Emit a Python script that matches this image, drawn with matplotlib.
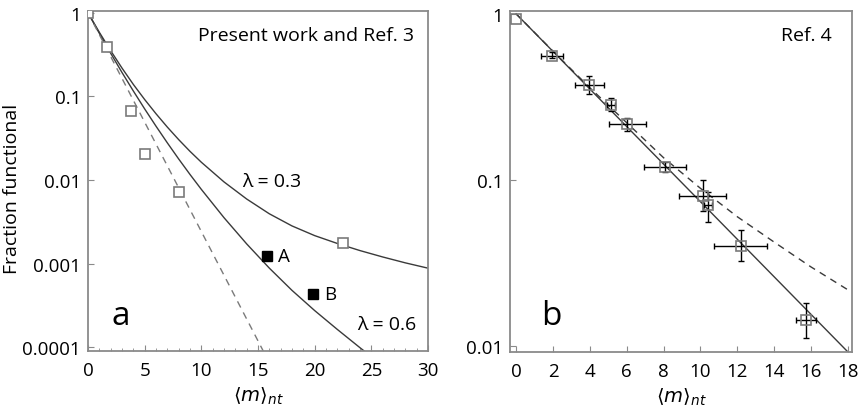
import matplotlib

matplotlib.use("Agg")
import matplotlib.pyplot as plt
from matplotlib.ticker import FixedLocator, NullLocator

plt.rcParams["font.family"] = ["Open Sans", "DejaVu Sans"]
plt.rcParams["mathtext.fontset"] = "dejavusans"

# ---- panel a: present work and Ref. 3 ----
a_open_m = [0.0, 1.7, 3.8, 5.0, 8.06, 22.5]
a_open_f = [1.0, 0.387, 0.066, 0.0202, 0.00714, 0.00174]
a_filled_m = [15.8, 19.85]
a_filled_f = [0.00122, 0.00043]
a_filled_names = ["A", "B"]

# curves
lam03_m = [0, 1, 2, 3, 4, 5, 6, 7, 8, 9, 10, 12, 14, 16, 18, 20, 22, 24, 26, 28, 30]
lam03_f = [1.0, 0.584, 0.352, 0.218, 0.139, 0.0917, 0.0620, 0.0429, 0.0304,
           0.0220, 0.0163, 0.00948, 0.00592, 0.00394, 0.00282, 0.00216,
           0.00174, 0.00143, 0.00120, 0.00102, 0.000881]
lam06_m = [0, 1, 2, 3, 4, 5, 6, 7, 8, 9, 10, 12, 14, 16, 18, 20, 22, 24, 25]
lam06_f = [1.0, 0.568, 0.328, 0.193, 0.116, 0.0708, 0.0440, 0.0278, 0.01784,
           0.01164, 0.00772, 0.00354, 0.00172, 0.000882, 0.000478, 0.000274,
           0.000163, 9.85e-5, 7.72e-5]
a_dash_m = [0.0, 15.5]
a_dash_f = [1.0, 8.8e-5]

a_yticks = [1, 0.1, 0.01, 0.001, 0.0001]
a_yticklabels = ["1", "0.1", "0.01", "0.001", "0.0001"]

# ---- panel b: Ref. 4 ----
b_m = [0.0, 1.94, 3.98, 5.13, 6.02, 8.08, 10.12, 10.41, 12.18, 15.71]
b_f = [0.93, 0.561, 0.373, 0.284, 0.217, 0.119, 0.0798, 0.0707, 0.0402, 0.01435]
b_f_lo = [0.93, 0.54, 0.330, 0.260, 0.197, 0.111, 0.0653, 0.0556, 0.0324, 0.0112]
b_f_hi = [0.93, 0.585, 0.421, 0.312, 0.237, 0.128, 0.0995, 0.0843, 0.0502, 0.0182]
b_m_err = [0.0, 0.58, 0.81, 0.22, 1.0, 1.15, 1.29, 0.22, 1.42, 0.54]

b_line_m = [0.0, 18.0]
b_line_f = [1.0, 0.0092]
b_dash_m = [0.0, 2, 4, 6, 8, 10, 12, 14, 16, 18.2]
b_dash_f = [1.0, 0.596, 0.359, 0.221, 0.136, 0.089, 0.060, 0.0422, 0.0299, 0.0211]

b_yticks = [1, 0.1, 0.01]
b_yticklabels = ["1", "0.1", "0.01"]

LINE = "#3a3a3a"
GRAY = "#7a7a7a"
SPINE = "#8a8a8a"
TICK_FS = 13.5

fig = plt.figure(figsize=(8.58, 4.14), dpi=100)
ax_a = fig.add_axes([88 / 858, 62 / 414, 340 / 858, 340 / 414])
ax_b = fig.add_axes([510 / 858, 61 / 414, 342 / 858, 341 / 414])

for ax in (ax_a, ax_b):
    ax.set_yscale("log")
    for s in ax.spines.values():
        s.set_color(SPINE)
        s.set_linewidth(1.3)
    ax.tick_params(which="both", direction="in", labelsize=TICK_FS, colors="black",
                   top=False, right=False)
    ax.tick_params(axis="x", pad=7)
    ax.tick_params(axis="y", pad=5)
    ax.tick_params(which="major", length=4, color=SPINE)
    ax.tick_params(which="minor", length=2.5, color=SPINE)
    ax.yaxis.set_minor_locator(NullLocator())

# panel a
ax_a.plot(lam03_m, lam03_f, color=LINE, lw=1.0)
ax_a.plot(lam06_m, lam06_f, color=LINE, lw=1.0)
ax_a.plot(a_dash_m, a_dash_f, color=GRAY, lw=1.0, dashes=(5, 4))
ax_a.plot(a_open_m, a_open_f, ls="none", marker="s", ms=7, mfc="white",
          mec=GRAY, mew=1.2, zorder=3)
ax_a.plot(a_filled_m, a_filled_f, ls="none", marker="s", ms=7, mfc="black",
          mec="black", zorder=3)
for m, f, name in zip(a_filled_m, a_filled_f, a_filled_names):
    ax_a.annotate(name, (m, f), xytext=(8, 0), textcoords="offset points",
                  ha="left", va="center", fontsize=13.5)
ax_a.text(16.2, 0.0096, "λ = 0.3", ha="center", va="center", fontsize=14)
ax_a.text(26.4, 0.000187, "λ = 0.6", ha="center", va="center", fontsize=14)
ax_a.text(0.96, 0.955, "Present work and Ref. 3", transform=ax_a.transAxes,
          ha="right", va="top", fontsize=14)
ax_a.text(0.07, 0.079, "a", transform=ax_a.transAxes, ha="left", va="baseline",
          fontsize=24)

ax_a.set_xlim(0, 30)
ax_a.set_ylim(9e-5, 1.05)
ax_a.xaxis.set_major_locator(FixedLocator(range(0, 31, 5)))
ax_a.xaxis.set_minor_locator(FixedLocator(range(0, 31)))
ax_a.yaxis.set_major_locator(FixedLocator(a_yticks))
ax_a.set_yticklabels(a_yticklabels)
ax_a.set_xlabel(r"$\langle m\rangle_{nt}$", fontsize=14, labelpad=4)
ax_a.set_ylabel("Fraction functional", fontsize=14)
ax_a.yaxis.set_label_coords(-0.198, 0.48)

# panel b
ax_b.plot(b_line_m, b_line_f, color=LINE, lw=1.0)
ax_b.plot(b_dash_m, b_dash_f, color=LINE, lw=1.0, dashes=(5, 4))
ax_b.errorbar(b_m[1:], b_f[1:],
              xerr=b_m_err[1:],
              yerr=[[f - lo for f, lo in zip(b_f[1:], b_f_lo[1:])],
                    [hi - f for f, hi in zip(b_f[1:], b_f_hi[1:])]],
              fmt="none", ecolor="black", elinewidth=1.0, capsize=2, capthick=1.0,
              zorder=3)
ax_b.plot(b_m, b_f, ls="none", marker="s", ms=7, mfc="none", mec=GRAY, mew=1.2,
          zorder=4)
ax_b.text(0.94, 0.955, "Ref. 4", transform=ax_b.transAxes, ha="right", va="top",
          fontsize=14)
ax_b.text(0.09, 0.082, "b", transform=ax_b.transAxes, ha="left", va="baseline",
          fontsize=24)

ax_b.set_xlim(-0.33, 18.22)
ax_b.set_ylim(0.0092, 1.04)
ax_b.xaxis.set_major_locator(FixedLocator(range(0, 19, 2)))
ax_b.xaxis.set_minor_locator(NullLocator())
ax_b.yaxis.set_major_locator(FixedLocator(b_yticks))
ax_b.set_yticklabels(b_yticklabels)
ax_b.set_xlabel(r"$\langle m\rangle_{nt}$", fontsize=14, labelpad=4)

fig.savefig("out.png", dpi=100)
plt.close(fig)
